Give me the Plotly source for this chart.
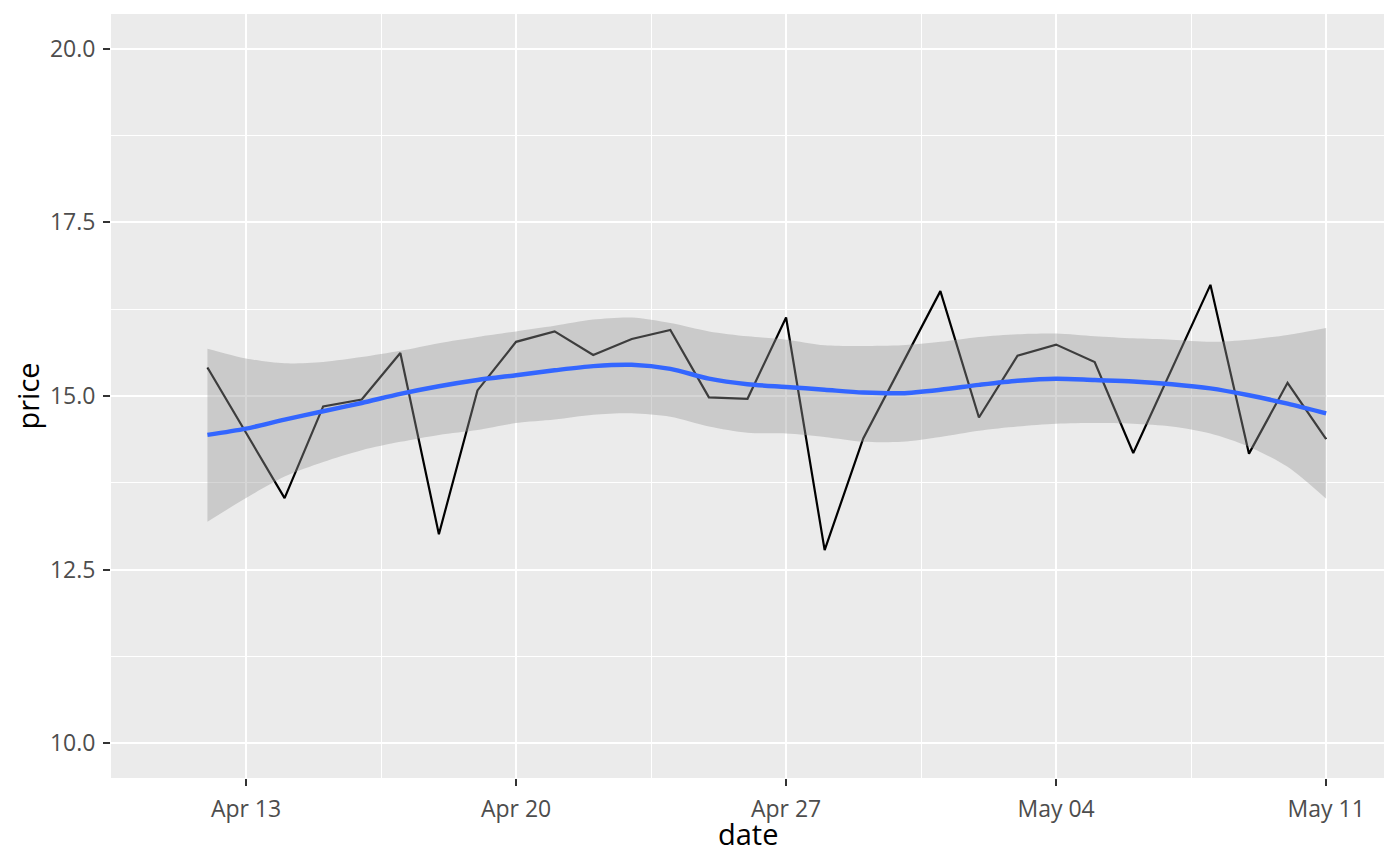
import plotly.graph_objects as go

# daily observations, Apr 12 - May 11
dates = ['2023-04-12', '2023-04-13', '2023-04-14', '2023-04-15', '2023-04-16',
         '2023-04-17', '2023-04-18', '2023-04-19', '2023-04-20', '2023-04-21',
         '2023-04-22', '2023-04-23', '2023-04-24', '2023-04-25', '2023-04-26',
         '2023-04-27', '2023-04-28', '2023-04-29', '2023-04-30', '2023-05-01',
         '2023-05-02', '2023-05-03', '2023-05-04', '2023-05-05', '2023-05-06',
         '2023-05-07', '2023-05-08', '2023-05-09', '2023-05-10', '2023-05-11']

price = [15.41, 14.48, 13.53, 14.85, 14.95, 15.62, 13.01, 15.08, 15.78, 15.93,
         15.59, 15.82, 15.95, 14.98, 14.96, 16.13, 12.78, 14.39, 15.45, 16.51,
         14.69, 15.58, 15.74, 15.49, 14.18, 15.40, 16.60, 14.17, 15.19, 14.38]

# loess fit and its confidence band
smooth = [14.44, 14.53, 14.66, 14.78, 14.90, 15.03, 15.14, 15.23, 15.30, 15.37,
          15.43, 15.45, 15.39, 15.25, 15.17, 15.13, 15.09, 15.05, 15.04, 15.09,
          15.16, 15.22, 15.25, 15.23, 15.21, 15.17, 15.11, 15.01, 14.89, 14.75]

upper = [15.68, 15.54, 15.47, 15.49, 15.56, 15.65, 15.76, 15.85, 15.93, 16.01,
         16.10, 16.13, 16.05, 15.93, 15.86, 15.81, 15.73, 15.72, 15.73, 15.78,
         15.85, 15.89, 15.90, 15.86, 15.83, 15.81, 15.78, 15.81, 15.88, 15.98]

lower = [13.19, 13.53, 13.84, 14.05, 14.22, 14.34, 14.44, 14.51, 14.61, 14.66,
         14.73, 14.75, 14.70, 14.56, 14.47, 14.46, 14.41, 14.34, 14.34, 14.41,
         14.50, 14.56, 14.60, 14.61, 14.60, 14.56, 14.46, 14.27, 13.98, 13.52]

x_range = ['2023-04-09 12:00', '2023-05-12 12:00']
y_range = [9.5, 20.5]

DAY = 86400000

fig = go.Figure()

# raw price line
fig.add_trace(go.Scatter(
    x=dates, y=price, mode='lines',
    line=dict(color='black', width=2.2)
))

# confidence band (drawn over the price line, like geom_smooth)
fig.add_trace(go.Scatter(
    x=dates, y=upper, mode='lines',
    line=dict(width=0, shape='spline', smoothing=0.8)
))
fig.add_trace(go.Scatter(
    x=dates, y=lower, mode='lines',
    line=dict(width=0, shape='spline', smoothing=0.8),
    fill='tonexty', fillcolor='rgba(153,153,153,0.4)'
))

# smoothed line
fig.add_trace(go.Scatter(
    x=dates, y=smooth, mode='lines',
    line=dict(color='#3366FF', width=4.5, shape='spline', smoothing=0.8)
))

font_family = 'Open Sans'

# page body keeps its 8px margin, so the figure is 16px smaller than the window
fig.update_layout(
    width=1384
    , height=850
    , margin=dict(l=103, r=8, t=6, b=80)
    , paper_bgcolor='white'
    , plot_bgcolor='#EBEBEB'
    , showlegend=False
    , font=dict(family=font_family, color='black')
    , xaxis=dict(
        type='date'
        , range=x_range
        , tick0='2023-04-13'
        , dtick=7 * DAY
        , tickformat='%b %d'
        , ticks='outside', ticklen=7, tickwidth=2, tickcolor='#333333'
        , ticklabelstandoff=3
        , tickfont=dict(size=23, color='#4D4D4D')
        , showgrid=True, gridcolor='white', gridwidth=2.2
        , minor=dict(tick0='2023-04-09 12:00', dtick=3.5 * DAY,
                     showgrid=True, gridcolor='white', gridwidth=1.1)
        , zeroline=False, showline=False
    )
    , yaxis=dict(
        range=y_range
        , tick0=10
        , dtick=2.5
        , tickformat='.1f'
        , ticks='outside', ticklen=7, tickwidth=2, tickcolor='#333333'
        , ticklabelstandoff=3
        , tickfont=dict(size=23, color='#4D4D4D')
        , showgrid=True, gridcolor='white', gridwidth=2.2
        , minor=dict(tick0=10, dtick=1.25,
                     showgrid=True, gridcolor='white', gridwidth=1.1)
        , zeroline=False, showline=False
        , title=dict(text='price', font=dict(size=29, color='black'), standoff=5)
    )
)

# x axis title placed by hand, closer to the tick labels than plotly allows
fig.add_annotation(
    text='date', xref='paper', yref='paper', x=0.5, y=0
    , yanchor='middle', yshift=-55, showarrow=False
    , font=dict(family=font_family, size=29, color='black')
)

fig.write_html("out.html")
